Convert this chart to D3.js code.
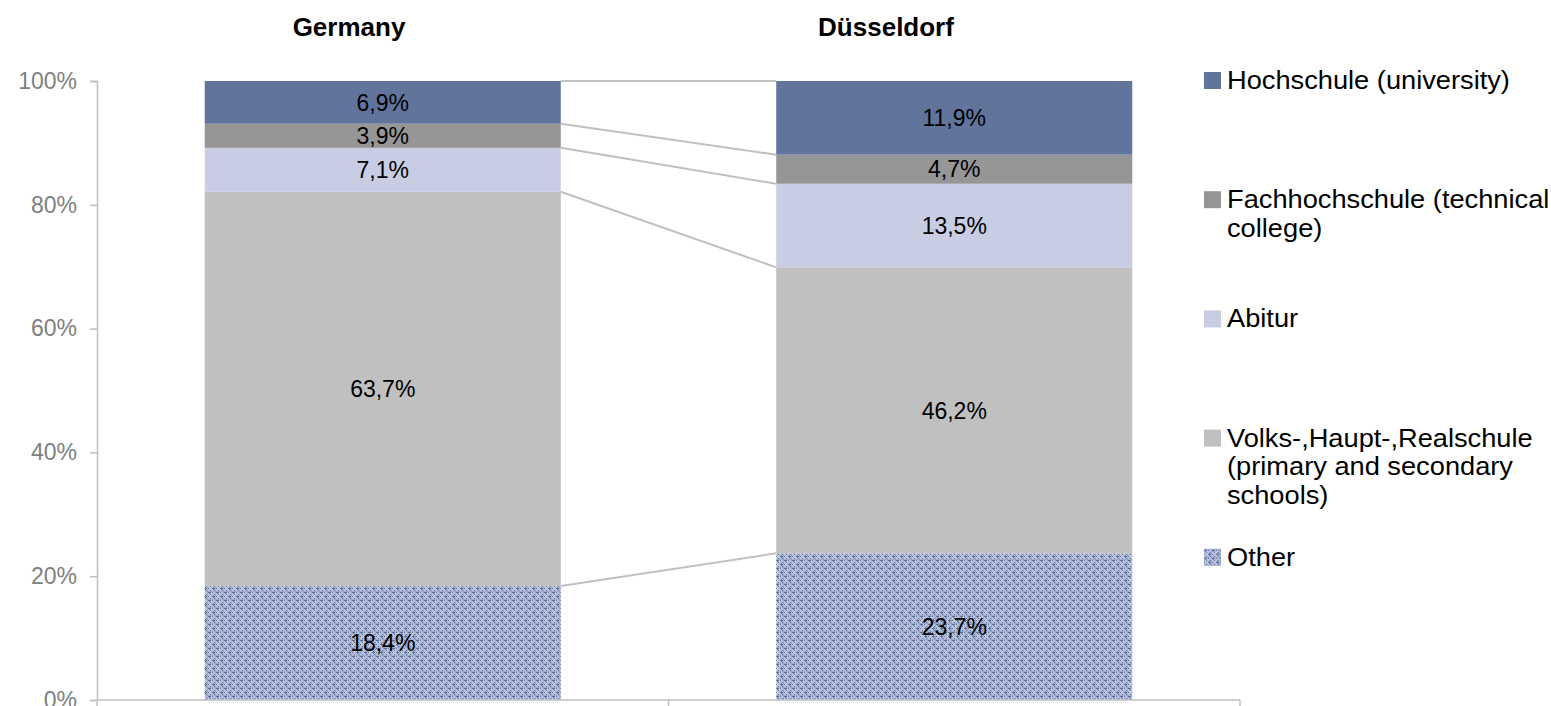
<!DOCTYPE html>
<html>
<head>
<meta charset="utf-8">
<script src="https://cdn.jsdelivr.net/npm/d3@7"></script>
<style>
  body { margin: 0; background: #fff; }
  svg { display: block; font-family: Arial, "Liberation Sans", sans-serif; }
</style>
</head>
<body>
<script>
// regions (columns)
var places = ["Germany", "Düsseldorf"];
// school levels, bottom to top of the stack
var levels = ["Other", "Volks", "Abitur", "Fachhochschule", "Hochschule"];
var levelNames = {
  "Hochschule": ["Hochschule (university)"],
  "Fachhochschule": ["Fachhochschule (technical", "college)"],
  "Abitur": ["Abitur"],
  "Volks": ["Volks-,Haupt-,Realschule", "(primary and secondary", "schools)"],
  "Other": ["Other"]
};
// shares in percent
var germanyValues = [18.4, 63.7, 7.1, 3.9, 6.9];
var duesseldorfValues = [23.7, 46.2, 13.5, 4.7, 11.9];
var yTicks = [0, 20, 40, 60, 80, 100];

var colors = {
  "Hochschule": "#60749c",
  "Fachhochschule": "#969696",
  "Abitur": "#c8cde3",
  "Volks": "#c0c0c0",
  "Other": "url(#dots)"
};

var w = 1551, h = 706;
var margin = {left: 97, right: 311, top: 81, bottom: 6};

var svg = d3.select("body").append("svg")
  .attr("width", w).attr("height", h);

// dotted diamond pattern for "Other"
var pat = svg.append("defs").append("pattern")
  .attr("id", "dots")
  .attr("patternUnits", "userSpaceOnUse")
  .attr("width", 8).attr("height", 8);
pat.append("rect").attr("width", 8).attr("height", 8).attr("fill", "#b9c3dc");
var blue = [[0,0,3,1],[1,-1,1,3],[4,4,3,1],[5,3,1,3],[0,4,1,1],[4,0,1,1],[2,6,1,1],[6,2,1,1],[2,2,1,1],[6,6,1,1]];
blue.forEach(function(b) {
  pat.append("rect").attr("x", b[0]).attr("y", b[1]).attr("width", b[2]).attr("height", b[3]).attr("fill", "#5a6f9c");
});
pat.append("rect").attr("x", 0).attr("y", 7).attr("width", 8).attr("height", 1).attr("fill", "#8596bd").attr("opacity", 0.5);
pat.append("rect").attr("x", 7).attr("y", 0).attr("width", 1).attr("height", 8).attr("fill", "#8596bd").attr("opacity", 0.5);

var table = places.map(function(p, i) {
  var vals = i == 0 ? germanyValues : duesseldorfValues;
  var row = {place: p};
  levels.forEach(function(l, j) { row[l] = vals[j]; });
  return row;
});

var stacked = d3.stack().keys(levels)(table);

var x = d3.scaleBand()
  .domain(places)
  .range([margin.left, w - margin.right])
  .paddingInner(0.377)
  .paddingOuter(0.1885);

var y = d3.scaleLinear()
  .domain([0, 100])
  .range([h - margin.bottom, margin.top]);

var fmt = function(v) { return d3.format(".1f")(v).replace(".", ",") + "%"; };

// connector lines between bars
var lines = svg.append("g");
stacked.forEach(function(s) {
  lines.append("line")
    .attr("x1", x(places[0]) + x.bandwidth())
    .attr("x2", x(places[1]))
    .attr("y1", y(s[0][1]))
    .attr("y2", y(s[1][1]))
    .attr("stroke", "#c0c0c0")
    .attr("stroke-width", 2);
});

// bars
var groups = svg.append("g").selectAll("g")
  .data(stacked).enter().append("g")
  .attr("fill", function(d) { return colors[d.key]; });

groups.selectAll("rect")
  .data(function(d) { return d; })
  .enter().append("rect")
  .attr("x", function(d) { return x(d.data.place); })
  .attr("y", function(d) { return y(d[1]); })
  .attr("height", function(d) { return y(d[0]) - y(d[1]); })
  .attr("width", x.bandwidth());

// value labels
groups.selectAll("text")
  .data(function(d) { return d; })
  .enter().append("text")
  .attr("x", function(d) { return x(d.data.place) + x.bandwidth() / 2; })
  .attr("y", function(d) { return y((d[0] + d[1]) / 2); })
  .attr("dy", "0.36em")
  .attr("text-anchor", "middle")
  .attr("fill", "#000")
  .attr("font-size", "23px")
  .text(function(d) { return fmt(d[1] - d[0]); });

// y axis
var yAxis = svg.append("g")
  .attr("transform", "translate(" + margin.left + ",0)")
  .call(d3.axisLeft(y).tickValues(yTicks).tickSize(7).tickPadding(13)
    .tickFormat(function(d) { return d + "%"; }));
yAxis.selectAll("path, line").attr("stroke", "#bfbfbf").attr("stroke-width", 1.5);
yAxis.selectAll("text").attr("fill", "#808080").attr("font-size", "23px")
  .attr("font-family", "Arial, 'Liberation Sans', sans-serif");

// x axis: just the baseline with category separators
var xAxis = svg.append("g");
xAxis.append("line")
  .attr("x1", margin.left).attr("x2", w - margin.right)
  .attr("y1", y(0)).attr("y2", y(0))
  .attr("stroke", "#bfbfbf").attr("stroke-width", 1.5);
var seps = [margin.left].concat(places.map(function(p) { return x(p) - x.step() * x.paddingInner() / 2 + x.step(); }));
xAxis.selectAll("line.sep").data(seps).enter().append("line")
  .attr("class", "sep")
  .attr("x1", function(d) { return d; }).attr("x2", function(d) { return d; })
  .attr("y1", y(0)).attr("y2", y(0) + 7)
  .attr("stroke", "#bfbfbf").attr("stroke-width", 1.5);

// column titles
var titleX = {"Germany": 349, "Düsseldorf": 886};
svg.append("g").selectAll("text")
  .data(places).enter().append("text")
  .attr("x", function(d) { return titleX[d]; })
  .attr("y", 36)
  .attr("text-anchor", "middle")
  .attr("font-weight", "bold")
  .attr("font-size", "26px")
  .text(function(d) { return d; });

// legend
var legendOrder = levels.slice().reverse();
var leg = svg.append("g").selectAll("g")
  .data(legendOrder).enter().append("g")
  .attr("transform", function(d, i) { return "translate(1204," + (89 + i * 119.2) + ")"; });
leg.append("rect")
  .attr("x", 0).attr("y", -17)
  .attr("width", 17).attr("height", 17)
  .attr("fill", function(d) { return colors[d]; });
leg.append("text")
  .attr("transform", "translate(23,0) scale(1.09,1)")
  .attr("font-size", "25px")
  .attr("fill", "#000")
  .selectAll("tspan")
  .data(function(d) { return levelNames[d]; })
  .enter().append("tspan")
  .attr("x", 0)
  .attr("dy", function(d, i) { return i == 0 ? 0 : 28.5; })
  .text(function(d) { return d; });
</script>
</body>
</html>
